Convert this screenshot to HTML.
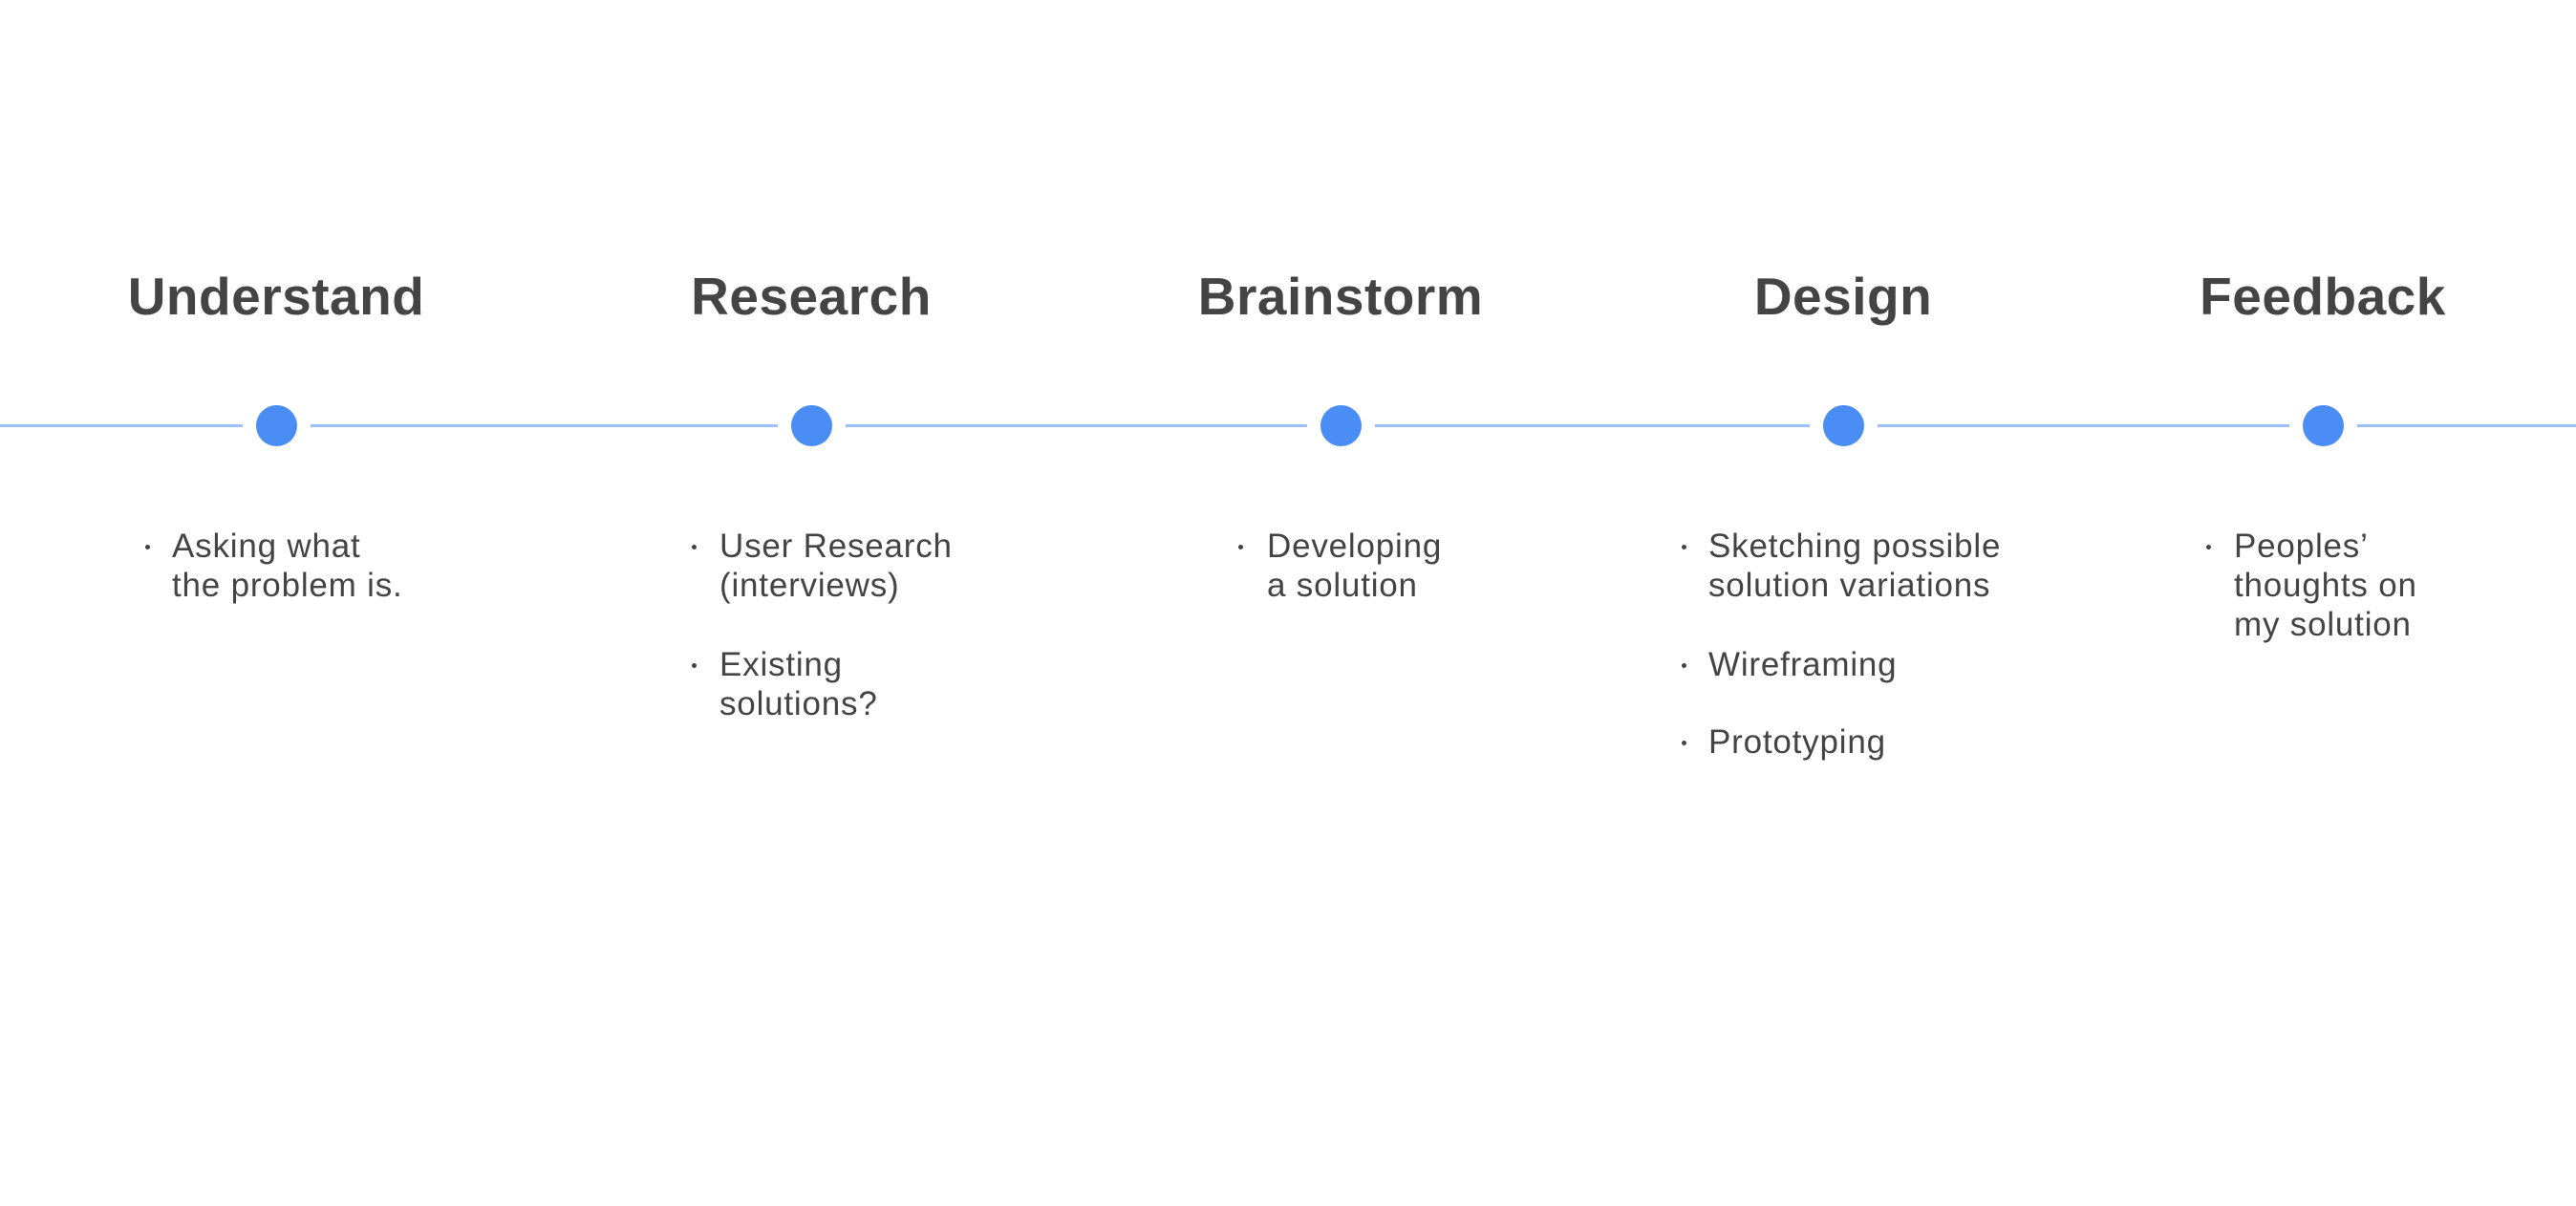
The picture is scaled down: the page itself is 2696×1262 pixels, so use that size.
<!DOCTYPE html>
<html><head><meta charset="utf-8"><style>
html,body{margin:0;padding:0;background:#fff;width:2696px;height:1262px;overflow:hidden;position:relative;font-family:"Liberation Sans",sans-serif;color:#444}
.h{position:absolute;top:275px;font-size:55px;font-weight:bold;transform:translateX(-50%);white-space:nowrap;letter-spacing:0.5px;line-height:70px}
.ln{position:absolute;top:444px;height:3px;background:#9cc0fb}
.dot{position:absolute;top:424px;width:43px;height:43px;border-radius:50%;background:#4a8ef5;margin-left:-21px}
.t{position:absolute;font-size:35px;line-height:41px;white-space:nowrap;color:#444;letter-spacing:0.8px}
.b{position:absolute;width:5px;height:5px;border-radius:50%;background:#444}
</style></head><body>
<div class="h" style="left:289px">Understand</div>
<div class="h" style="left:849px">Research</div>
<div class="h" style="left:1403px">Brainstorm</div>
<div class="h" style="left:1929px">Design</div>
<div class="h" style="left:2431px">Feedback</div>

<div class="ln" style="left:0;width:254px"></div>
<div class="ln" style="left:325px;width:489px"></div>
<div class="ln" style="left:885px;width:483px"></div>
<div class="ln" style="left:1439px;width:455px"></div>
<div class="ln" style="left:1965px;width:431px"></div>
<div class="ln" style="left:2467px;width:229px"></div>

<div class="dot" style="left:289px"></div>
<div class="dot" style="left:849px"></div>
<div class="dot" style="left:1403px"></div>
<div class="dot" style="left:1929px"></div>
<div class="dot" style="left:2431px"></div>

<div class="b" style="left:152px;top:570px"></div>
<div class="t" style="left:180px;top:551px">Asking what<br>the problem is.</div>

<div class="b" style="left:724px;top:570px"></div>
<div class="t" style="left:753px;top:551px">User Research<br>(interviews)</div>
<div class="b" style="left:724px;top:694px"></div>
<div class="t" style="left:753px;top:675px">Existing<br>solutions?</div>

<div class="b" style="left:1296px;top:570px"></div>
<div class="t" style="left:1326px;top:551px">Developing<br>a solution</div>

<div class="b" style="left:1760px;top:570px"></div>
<div class="t" style="left:1788px;top:551px">Sketching possible<br>solution variations</div>
<div class="b" style="left:1760px;top:694px"></div>
<div class="t" style="left:1788px;top:675px">Wireframing</div>
<div class="b" style="left:1760px;top:775px"></div>
<div class="t" style="left:1788px;top:756px">Prototyping</div>

<div class="b" style="left:2309px;top:570px"></div>
<div class="t" style="left:2338px;top:551px">Peoples’<br>thoughts on<br>my solution</div>
</body></html>
